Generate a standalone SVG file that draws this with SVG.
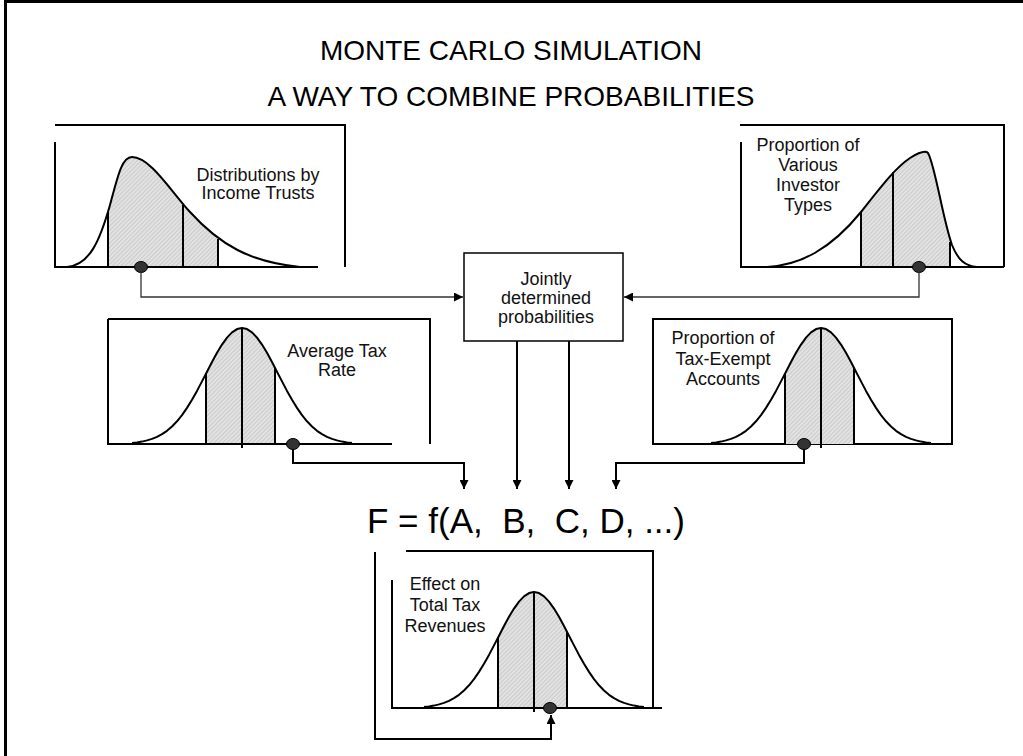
<svg xmlns="http://www.w3.org/2000/svg" xmlns:xlink="http://www.w3.org/1999/xlink" width="1023" height="756" viewBox="0 0 1023 756">
<style>
  .frame { fill: none; stroke: #000; stroke-width: 2; }
  .curve { fill: none; stroke: #000; stroke-width: 2; stroke-linejoin: round; }
  .shade { fill: url(#hatch); stroke: none; }
  .vline { stroke: #000; stroke-width: 2; }
  .dot { fill: #333; stroke: #000; stroke-width: 1; }
  .lbl { font-family: "Liberation Sans", Arial, sans-serif; font-size: 18px; fill: #111; text-anchor: middle; }
  .title { font-family: "Liberation Sans", Arial, sans-serif; font-size: 28px; fill: #000; text-anchor: middle; }
  .thin { fill: none; stroke: #333; stroke-width: 1.3; }
  .thick { fill: none; stroke: #000; stroke-width: 2; }
</style>
<defs>
  <pattern id="hatch" width="3" height="3" patternUnits="userSpaceOnUse" patternTransform="rotate(45)">
    <rect width="3" height="3" fill="#e2e2e2"/>
    <line x1="0" y1="0" x2="0" y2="3" stroke="#b5b5b5" stroke-width="1"/>
  </pattern>
  <marker id="arrow" viewBox="0 0 10 10" refX="10" refY="5" markerWidth="9" markerHeight="9" markerUnits="userSpaceOnUse" orient="auto">
    <path d="M0,0 L10,5 L0,10 Z" fill="#000"/>
  </marker>
  <clipPath id="clip1"><rect x="108" y="100" width="110" height="167"/></clipPath>
  <clipPath id="clip2"><rect x="861" y="100" width="89" height="167"/></clipPath>
  <g id="normal">
    <path class="shade" d="M-36,0 L-36,-70.4 L-35,-72.3 L-30,-82 L-25,-91.2 L-20,-99.4 L-15,-106.4 L-10,-111.6 L-5,-114.9 L0,-116 L5,-114.9 L10,-111.6 L15,-106.4 L20,-99.4 L25,-91.2 L30,-82 L33,-76.2 L33,0 Z"/>
    <path class="curve" d="M-110,-1.1 L-105,-1.6 L-100,-2.4 L-95,-3.6 L-90,-5.1 L-85,-7.1 L-80,-9.8 L-75,-13.2 L-70,-17.5 L-65,-22.7 L-60,-28.9 L-55,-36.1 L-50,-44.2 L-45,-53.1 L-40,-62.6 L-35,-72.3 L-30,-82 L-25,-91.2 L-20,-99.4 L-15,-106.4 L-10,-111.6 L-5,-114.9 L0,-116 L5,-114.9 L10,-111.6 L15,-106.4 L20,-99.4 L25,-91.2 L30,-82 L35,-72.3 L40,-62.6 L45,-53.1 L50,-44.2 L55,-36.1 L60,-28.9 L65,-22.7 L70,-17.5 L75,-13.2 L80,-9.8 L85,-7.1 L90,-5.1 L95,-3.6 L100,-2.4 L105,-1.6 L110,-1.1"/>
    <line class="vline" x1="-36" y1="0" x2="-36" y2="-70.4"/>
    <line class="vline" x1="0" y1="4" x2="0" y2="-116"/>
    <line class="vline" x1="33" y1="0" x2="33" y2="-76.2"/>
  </g>
</defs>

<rect x="0" y="0" width="1023" height="756" fill="#fff"/>

<g id="outer-frame">
  <line x1="5.5" y1="0" x2="5.5" y2="756" stroke="#000" stroke-width="3"/>
  <line x1="4" y1="1.5" x2="1023" y2="1.5" stroke="#000" stroke-width="3"/>
</g>

<g id="title">
  <text class="title" x="511" y="60">MONTE CARLO SIMULATION</text>
  <text class="title" x="511" y="106">A WAY TO COMBINE PROBABILITIES</text>
</g>

<g id="panel-income-trusts">
  <path class="frame" d="M55,125 H345 V267"/>
  <path class="shade" clip-path="url(#clip1)" d="M67,267 C90,265 100,240 110,205 C118,175 122,157 132,157 C150,157 170,190 190,212 C220,245 250,262 300,267 Z"/>
  <path class="curve" d="M67,267 C90,265 100,240 110,205 C118,175 122,157 132,157 C150,157 170,190 190,212 C220,245 250,262 300,267"/>
  <line class="vline" x1="108" y1="267" x2="108" y2="212"/>
  <line class="vline" x1="183" y1="267" x2="183" y2="205"/>
  <line class="vline" x1="218" y1="267" x2="218" y2="239"/>
  <path class="frame" d="M55,142 V267 H318"/>
  <ellipse class="dot" cx="141" cy="267" rx="6.5" ry="5.5"/>
  <text class="lbl" x="258" y="181">Distributions by</text>
  <text class="lbl" x="258" y="199">Income Trusts</text>
</g>

<g id="panel-investor-types">
  <path class="frame" d="M740,125 H1004 V267"/>
  <path class="shade" clip-path="url(#clip2)" d="M767,267 C800,265 830,250 861,212 C880,188 895,168 910,158 C918,153 925,150 928,153 C935,165 943,220 952,245 C958,260 965,266 977,267 Z"/>
  <path class="curve" d="M767,267 C800,265 830,250 861,212 C880,188 895,168 910,158 C918,153 925,150 928,153 C935,165 943,220 952,245 C958,260 965,266 977,267"/>
  <line class="vline" x1="861" y1="267" x2="861" y2="212"/>
  <line class="vline" x1="893" y1="267" x2="893" y2="172"/>
  <line class="vline" x1="950" y1="267" x2="950" y2="242"/>
  <path class="frame" d="M741,142 V267 H1004"/>
  <ellipse class="dot" cx="919" cy="267" rx="6.5" ry="5.5"/>
  <text class="lbl" x="808" y="151">Proportion of</text>
  <text class="lbl" x="808" y="171">Various</text>
  <text class="lbl" x="808" y="191">Investor</text>
  <text class="lbl" x="808" y="211">Types</text>
</g>

<g id="box-jointly">
  <rect x="464" y="253" width="159" height="88" fill="#fff" stroke="#000" stroke-width="1.5"/>
  <text class="lbl" x="546" y="285">Jointly</text>
  <text class="lbl" x="546" y="304">determined</text>
  <text class="lbl" x="546" y="323">probabilities</text>
</g>

<g id="panel-avg-tax">
  <path class="frame" d="M108,319 H430 V444"/>
  <use xlink:href="#normal" href="#normal" transform="translate(242,444)"/>
  <path class="frame" d="M108,319 V444 H392"/>
  <ellipse class="dot" cx="293" cy="444" rx="6.5" ry="5.5"/>
  <text class="lbl" x="337" y="357">Average Tax</text>
  <text class="lbl" x="337" y="376">Rate</text>
</g>

<g id="panel-tax-exempt">
  <rect class="frame" x="653" y="319" width="299" height="125"/>
  <use xlink:href="#normal" href="#normal" transform="translate(821,444)"/>
  <ellipse class="dot" cx="804" cy="444" rx="6.5" ry="5.5"/>
  <text class="lbl" x="723" y="344">Proportion of</text>
  <text class="lbl" x="723" y="365">Tax-Exempt</text>
  <text class="lbl" x="723" y="385">Accounts</text>
</g>

<g id="formula">
  <text x="367" y="533" font-family="Liberation Sans, Arial, sans-serif" font-size="35" fill="#000" xml:space="preserve" style="white-space:pre">F = f(A,  B,  C, D, ...)</text>
</g>

<g id="panel-effect">
  <path class="frame" d="M406,551 H653 V708"/>
  <use xlink:href="#normal" href="#normal" transform="translate(534,708)"/>
  <path class="frame" d="M392,580 V708 H662"/>
  <ellipse class="dot" cx="550" cy="708" rx="6.5" ry="5.5"/>
  <text class="lbl" x="445" y="590">Effect on</text>
  <text class="lbl" x="445" y="611">Total Tax</text>
  <text class="lbl" x="445" y="632">Revenues</text>
</g>

<g id="connectors">
  <path class="thin" d="M141,272 V297 H463" marker-end="url(#arrow)"/>
  <path class="thin" d="M919,272 V297 H624" marker-end="url(#arrow)"/>
  <path class="thick" d="M517,341 V489" marker-end="url(#arrow)"/>
  <path class="thick" d="M569,341 V489" marker-end="url(#arrow)"/>
  <path class="thick" d="M293,449 V463 H464 V489" marker-end="url(#arrow)"/>
  <path class="thick" d="M804,449 V463 H616 V489" marker-end="url(#arrow)"/>
  <path class="thick" d="M375,552 V739 H551 V715" marker-end="url(#arrow)"/>
</g>
</svg>
